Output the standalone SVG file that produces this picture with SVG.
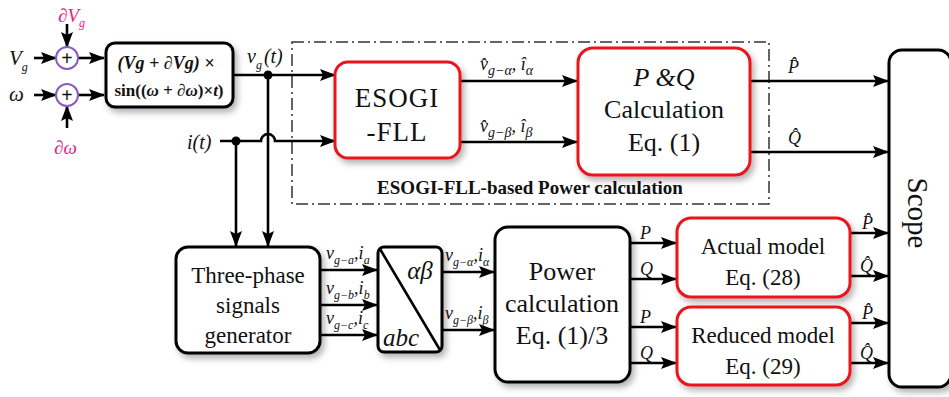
<svg xmlns="http://www.w3.org/2000/svg" width="949" height="397" viewBox="0 0 949 397" font-family="'Liberation Serif','DejaVu Serif','Times New Roman',serif">
<style>
text{font-family:'Liberation Serif','DejaVu Serif','Times New Roman',serif;fill:#111}
.w{stroke:#000;stroke-width:2.6;fill:none}
.a{marker-end:url(#ar)}
.box{fill:#fff;stroke:#000;stroke-width:3}
.rbox{fill:#fff;stroke:#e8141c;stroke-width:3}
.it{font-style:italic}
.mg{fill:#e8218a}
.sub{font-size:12px;font-style:italic}
.sub2{font-size:14px;font-style:italic}
.lbl{font-size:18px;font-style:italic}
.big{font-size:26px}
</style>
<defs>
<marker id="ar" markerUnits="userSpaceOnUse" markerWidth="16" markerHeight="12" refX="15" refY="6" orient="auto">
<path d="M0,0 L16,6 L0,12 L3,6 z" fill="#000"/>
</marker>
<filter id="sh" x="-15%" y="-15%" width="140%" height="140%">
<feDropShadow dx="3" dy="4" stdDeviation="3" flood-color="#000" flood-opacity="0.3"/>
</filter>
</defs>

<g id="frame">
<rect x="292" y="42" width="477" height="162" fill="none" stroke="#333" stroke-width="1.5" stroke-dasharray="12 4 2 4"/>
<text x="530" y="194" text-anchor="middle" font-size="19" font-weight="bold">ESOGI-FLL-based Power calculation</text>
</g>

<g id="connectors">
<line class="w a" x1="67" y1="24" x2="67" y2="47"/>
<line class="w a" x1="34" y1="58" x2="56" y2="58"/>
<line class="w a" x1="78" y1="58" x2="104" y2="58"/>
<line class="w a" x1="34" y1="95" x2="56" y2="95"/>
<line class="w a" x1="78" y1="95" x2="104" y2="95"/>
<line class="w a" x1="67" y1="128" x2="67" y2="106"/>
<line class="w a" x1="233" y1="75" x2="335" y2="75"/>
<line class="w a" x1="268" y1="75" x2="268" y2="246"/>
<circle cx="268" cy="75" r="4.5" fill="#000"/>
<path class="w a" d="M220,141 L261,141 A7,7 0 0 1 275,141 L335,141"/>
<line class="w a" x1="236" y1="141" x2="236" y2="246"/>
<circle cx="236" cy="141" r="4.5" fill="#000"/>
<line class="w a" x1="460" y1="81" x2="577" y2="81"/>
<line class="w a" x1="460" y1="142" x2="577" y2="142"/>
<line class="w a" x1="750" y1="81" x2="888" y2="81"/>
<line class="w a" x1="750" y1="152" x2="888" y2="152"/>
<line class="w a" x1="320" y1="270" x2="377" y2="270"/>
<line class="w a" x1="320" y1="305" x2="377" y2="305"/>
<line class="w a" x1="320" y1="335" x2="377" y2="335"/>
<line class="w a" x1="442" y1="272" x2="494" y2="272"/>
<line class="w a" x1="442" y1="330" x2="494" y2="330"/>
<line class="w a" x1="630" y1="243" x2="676" y2="243"/>
<line class="w a" x1="630" y1="279" x2="676" y2="279"/>
<line class="w a" x1="630" y1="327" x2="676" y2="327"/>
<line class="w a" x1="630" y1="363" x2="676" y2="363"/>
<line class="w a" x1="850" y1="233" x2="888" y2="233"/>
<line class="w a" x1="850" y1="276" x2="888" y2="276"/>
<line class="w a" x1="850" y1="323" x2="888" y2="323"/>
<line class="w a" x1="850" y1="363" x2="888" y2="363"/>
</g>

<g id="labels">
<text x="58" y="22" class="mg it" font-size="19">∂V<tspan class="sub" dy="5" style="fill:#e8218a">g</tspan></text>
<text x="9" y="65" class="it" font-size="21">V<tspan class="sub" dy="6">g</tspan></text>
<text x="9" y="101" class="it" font-size="21">ω</text>
<text x="54" y="154" class="mg it" font-size="19">∂ω</text>
<text x="247" y="63" class="it" font-size="20">v<tspan class="sub" dy="6">g</tspan><tspan dy="-6" dx="2">(t)</tspan></text>
<text x="187" y="149" class="it" font-size="20">i(t)</text>
<text x="480" y="70" class="lbl" font-size="21">v̂<tspan class="sub2" dy="5">g−α</tspan><tspan dy="-5">,  î</tspan><tspan class="sub2" dy="5">α</tspan></text>
<text x="480" y="132" class="lbl" font-size="21">v̂<tspan class="sub2" dy="5">g−β</tspan><tspan dy="-5">,  î</tspan><tspan class="sub2" dy="5">β</tspan></text>
<text x="788" y="73" class="lbl" font-size="21">P̂</text>
<text x="788" y="144" class="lbl" font-size="21">Q̂</text>
<text x="326" y="259" class="lbl" font-size="17">v<tspan class="sub" dy="5">g−a</tspan><tspan dy="-5">,i</tspan><tspan class="sub" dy="5">a</tspan></text>
<text x="326" y="294" class="lbl" font-size="17">v<tspan class="sub" dy="5">g−b</tspan><tspan dy="-5">,i</tspan><tspan class="sub" dy="5">b</tspan></text>
<text x="326" y="324" class="lbl" font-size="17">v<tspan class="sub" dy="5">g−c</tspan><tspan dy="-5">,i</tspan><tspan class="sub" dy="5">c</tspan></text>
<text x="445" y="261" class="lbl" font-size="17">v<tspan class="sub" dy="5">g−α</tspan><tspan dy="-5">,i</tspan><tspan class="sub" dy="5">α</tspan></text>
<text x="445" y="319" class="lbl" font-size="17">v<tspan class="sub" dy="5">g−β</tspan><tspan dy="-5">,i</tspan><tspan class="sub" dy="5">β</tspan></text>
<text x="640" y="239" class="lbl" font-size="20">P</text>
<text x="640" y="275" class="lbl" font-size="20">Q</text>
<text x="640" y="323" class="lbl" font-size="20">P</text>
<text x="640" y="359" class="lbl" font-size="20">Q</text>
<text x="862" y="229" class="lbl" font-size="19">P̂</text>
<text x="860" y="272" class="lbl" font-size="19">Q̂</text>
<text x="862" y="319" class="lbl" font-size="19">P̂</text>
<text x="860" y="359" class="lbl" font-size="19">Q̂</text>
</g>

<g id="sum1">
<circle cx="67" cy="58" r="11" fill="#fff" stroke="#8a5cc0" stroke-width="2"/>
<text x="67" y="65" text-anchor="middle" font-size="20" font-weight="bold">+</text>
</g>
<g id="sum2">
<circle cx="67" cy="95" r="11" fill="#fff" stroke="#8a5cc0" stroke-width="2"/>
<text x="67" y="102" text-anchor="middle" font-size="20" font-weight="bold">+</text>
</g>

<g id="signal">
<rect class="box" x="106" y="43" width="127" height="64" rx="9" filter="url(#sh)"/>
<text x="166" y="69" text-anchor="middle" font-size="18" font-weight="bold" font-style="italic">(Vg + ∂Vg) ×</text>
<text x="169" y="96" text-anchor="middle" font-size="17" font-weight="bold">sin((<tspan font-style="italic">ω + ∂ω</tspan>)×<tspan font-style="italic">t</tspan>)</text>
</g>

<g id="esogi">
<rect class="rbox" x="335" y="62" width="125" height="96" rx="13" filter="url(#sh)"/>
<text x="397" y="107" text-anchor="middle" font-size="27" letter-spacing="1">ESOGI</text>
<text x="397" y="141" text-anchor="middle" font-size="27" letter-spacing="1">-FLL</text>
</g>

<g id="pq">
<rect class="rbox" x="578" y="48" width="172" height="127" rx="15" filter="url(#sh)"/>
<text x="664" y="86" text-anchor="middle" class="big it">P &amp;Q</text>
<text x="664" y="118" text-anchor="middle" class="big">Calculation</text>
<text x="664" y="151" text-anchor="middle" class="big">Eq. (1)</text>
</g>

<g id="scope">
<rect class="box" x="889" y="50" width="62" height="337" rx="13" filter="url(#sh)"/>
<text transform="translate(908,213) rotate(90)" text-anchor="middle" font-size="29">Scope</text>
</g>

<g id="threephase">
<rect class="box" x="176" y="247" width="144" height="106" rx="12" filter="url(#sh)"/>
<text x="248" y="283" text-anchor="middle" font-size="23">Three-phase</text>
<text x="248" y="313" text-anchor="middle" font-size="23">signals</text>
<text x="248" y="343" text-anchor="middle" font-size="23">generator</text>
</g>

<g id="abc">
<rect class="box" x="378" y="247" width="64" height="105" rx="6" filter="url(#sh)"/>
<line x1="380" y1="249" x2="440" y2="350" stroke="#000" stroke-width="2.6"/>
<text x="420" y="279" text-anchor="middle" font-size="25" class="it">αβ</text>
<text x="401" y="346" text-anchor="middle" font-size="25" class="it">abc</text>
</g>

<g id="power">
<rect class="box" x="495" y="227" width="135" height="155" rx="13" filter="url(#sh)"/>
<text x="562" y="280" text-anchor="middle" class="big">Power</text>
<text x="562" y="312" text-anchor="middle" class="big">calculation</text>
<text x="562" y="344" text-anchor="middle" class="big">Eq. (1)/3</text>
</g>

<g id="actual">
<rect class="rbox" x="677" y="218" width="173" height="79" rx="14" filter="url(#sh)"/>
<text x="763" y="254" text-anchor="middle" font-size="23">Actual model</text>
<text x="763" y="285" text-anchor="middle" font-size="23">Eq. (28)</text>
</g>

<g id="reduced">
<rect class="rbox" x="677" y="307" width="173" height="78" rx="14" filter="url(#sh)"/>
<text x="763" y="343" text-anchor="middle" font-size="23">Reduced model</text>
<text x="763" y="374" text-anchor="middle" font-size="23">Eq. (29)</text>
</g>
</svg>
